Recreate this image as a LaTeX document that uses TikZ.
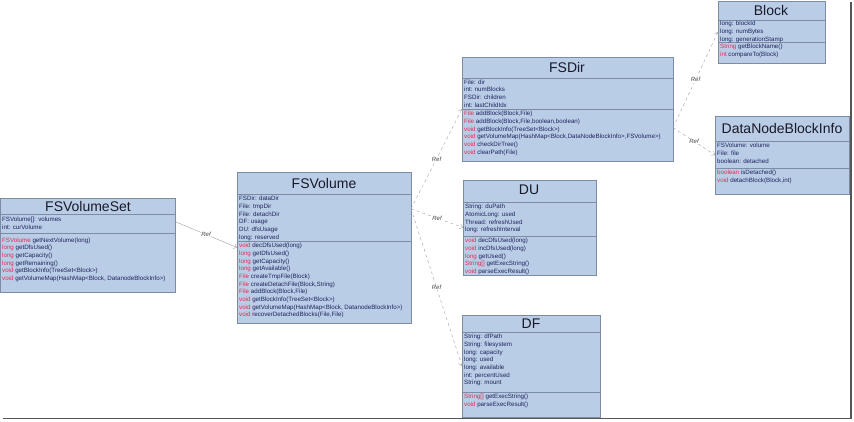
\documentclass[tikz,border=0pt]{standalone}
\usepackage{fontspec}
\setmainfont{Liberation Sans}
\usepackage{xcolor}
\usetikzlibrary{arrows.meta}

\newcommand{\rt}[1]{\textcolor[RGB]{225,45,85}{#1}}

\begin{document}
\begin{tikzpicture}[x=1pt,y=-1pt,
  classbox/.style={draw={rgb,255:red,125;green,140;blue,165}, fill={rgb,255:red,186;green,205;blue,230}, anchor=north west, inner sep=0pt, outer sep=0pt},
  classname/.style={font=\fontsize{14}{14}\selectfont, text={rgb,255:red,25;green,25;blue,40}},
  members/.style={anchor=north west, align=left, inner sep=0pt, font=\fontsize{6.2}{7.7}\selectfont, text={rgb,255:red,30;green,35;blue,95}},
  sep/.style={draw={rgb,255:red,125;green,140;blue,165}},
  ref/.style={draw={rgb,255:red,160;green,160;blue,165}, -{Straight Barb[length=3pt,width=5pt]}},
  reflabel/.style={font=\fontsize{6}{6}\selectfont\itshape, text={rgb,255:red,70;green,70;blue,70}, fill=white, inner sep=0.5pt}]
\useasboundingbox (0,0) rectangle (854,421);

% FSVolumeSet
\node[classbox, minimum width=175pt, minimum height=94pt] (fsvolumeset) at (0,198) {};
\node[classname] at (88,206) {FSVolumeSet};
\draw[sep] (0,214) -- (175,214);
\draw[sep] (0,233) -- (175,233);
\node[members] at (2,217) {FSVolume[]: volumes\\int: curVolume};
\node[members] at (2,237.5) {\rt{FSVolume} getNextVolume(long)\\\rt{long} getDfsUsed()\\\rt{long} getCapacity()\\\rt{long} getRemaining()\\\rt{void} getBlockInfo(TreeSet<Block>)\\\rt{void} getVolumeMap(HashMap<Block, DatanodeBlockInfo>)};

% FSVolume
\node[classbox, minimum width=174pt, minimum height=151pt] (fsvolume) at (237,172) {};
\node[classname] at (324,183) {FSVolume};
\draw[sep] (237,194) -- (411,194);
\draw[sep] (237,241) -- (411,241);
\node[members] at (239,196) {FSDir: dataDir\\File: tmpDir\\File: detachDir\\DF: usage\\DU: dfsUsage\\long: reserved};
\node[members] at (239,243) {\rt{void} decDfsUsed(long)\\\rt{long} getDfsUsed()\\\rt{long} getCapacity()\\\rt{long} getAvailable()\\\rt{File} createTmpFile(Block)\\\rt{File} createDetachFile(Block,String)\\\rt{File} addBlock(Block,File)\\\rt{void} getBlockInfo(TreeSet<Block>)\\\rt{void} getVolumeMap(HashMap<Block, DatanodeBlockInfo>)\\\rt{void} recoverDetachedBlocks(File,File)};

% FSDir
\node[classbox, minimum width=211pt, minimum height=104pt] (fsdir) at (462,57) {};
\node[classname] at (567,67) {FSDir};
\draw[sep] (462,78) -- (673,78);
\draw[sep] (462,109) -- (673,109);
\node[members] at (464,79.5) {File: dir\\int: numBlocks\\FSDir: children\\int: lastChildIdx};
\node[members] at (464,111) {\rt{File} addBlock(Block,File)\\\rt{File} addBlock(Block,File,boolean,boolean)\\\rt{void} getBlockInfo(TreeSet<Block>)\\\rt{void} getVolumeMap(HashMap<Block,DataNodeBlockInfo>,FSVolume>)\\\rt{void} checkDirTree()\\\rt{void} clearPath(File)};

% DU
\node[classbox, minimum width=133pt, minimum height=95pt] (du) at (463,180) {};
\node[classname] at (529,190) {DU};
\draw[sep] (463,202) -- (596,202);
\draw[sep] (463,236) -- (596,236);
\node[members] at (465,204) {String: duPath\\AtomicLong: used\\Thread: refreshUsed\\long: refreshInterval};
\node[members] at (465,238) {\rt{void} decDfsUsed(long)\\\rt{void} incDfsUsed(long)\\\rt{long} getUsed()\\\rt{String[]} getExecString()\\\rt{void} parseExecResult()};

% DF
\node[classbox, minimum width=138pt, minimum height=102pt] (df) at (462,315) {};
\node[classname] at (531,324) {DF};
\draw[sep] (462,332) -- (600,332);
\draw[sep] (462,392) -- (600,392);
\node[members] at (464,334) {String: dfPath\\String: filesystem\\long: capacity\\long: used\\long: available\\int: percentUsed\\String: mount};
\node[members] at (464,394) {\rt{String[]} getExecString()\\\rt{void} parseExecResult()};

% Block
\node[classbox, minimum width=107pt, minimum height=62pt] (block) at (718,1) {};
\node[classname] at (771,10) {Block};
\draw[sep] (718,20) -- (825,20);
\draw[sep] (718,42) -- (825,42);
\node[members] at (720,21) {long: blockId\\long: numBytes\\long: generationStamp};
\node[members] at (720,44) {\rt{String} getBlockName()\\\rt{int} compareTo(Block)};

% DataNodeBlockInfo
\node[classbox, minimum width=134pt, minimum height=78pt] (datanodeblockinfo) at (715,116) {};
\node[classname] at (782,128) {DataNodeBlockInfo};
\draw[sep] (715,141) -- (849,141);
\draw[sep] (715,168) -- (849,168);
\node[members] at (717,143) {FSVolume: volume\\File: file\\boolean: detached};
\node[members] at (717,170) {\rt{boolean} isDetached()\\\rt{void} detachBlock(Block,int)};

% references
\draw[ref] (fsvolumeset.15) -- node[reflabel] {Ref} (fsvolume.west);
\draw[ref,dashed] (fsvolume.24) -- node[reflabel] {Ref} (fsdir.west);
\draw[ref,dashed] (fsvolume.24) -- node[reflabel] {Ref} (du.west);
\draw[ref,dashed] (fsvolume.24) -- node[reflabel] {Ref} (df.west);
\draw[ref,dashed] (fsdir.-10) -- node[reflabel] {Ref} (block.west);
\draw[ref,dashed] (fsdir.-10) -- node[reflabel] {Ref} (datanodeblockinfo.west);

% frame shadow
\draw[draw={rgb,255:red,85;green,85;blue,85}, line width=1.5pt] (3,418.5) -- (851,418.5) -- (851,2);
\end{tikzpicture}
\end{document}
